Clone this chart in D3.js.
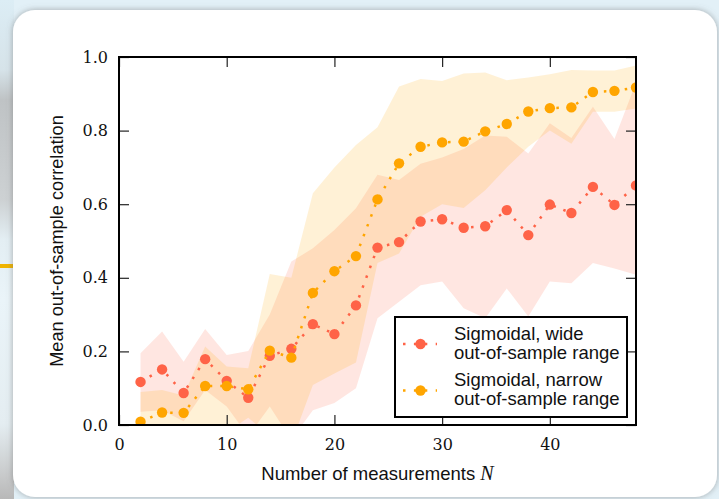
<!DOCTYPE html>
<html>
<head>
<meta charset="utf-8">
<script src="https://cdn.jsdelivr.net/npm/d3@7"></script>
<style>
  html, body { margin: 0; padding: 0; background: #e3f0f7; }
  svg { display: block; }
</style>
</head>
<body>
<div id="chart"></div>
<script>
// number of measurements N
var nValues = [2, 4, 6, 8, 10, 12, 14, 16, 18, 20, 22, 24, 26, 28, 30, 32, 34, 36, 38, 40, 42, 44, 46, 48];

// sigmoidal, wide out-of-sample range
var wideMean  = [0.117, 0.151, 0.087, 0.179, 0.120, 0.074, 0.188, 0.207, 0.274, 0.247, 0.325, 0.482,
                 0.497, 0.553, 0.559, 0.536, 0.540, 0.584, 0.516, 0.599, 0.576, 0.647, 0.598, 0.651];
var wideUpper = [0.195, 0.254, 0.172, 0.261, 0.190, 0.201, 0.300, 0.444, 0.480, 0.530, 0.589, 0.680,
                 0.666, 0.710, 0.727, 0.750, 0.787, 0.783, 0.738, 0.820, 0.780, 0.865, 0.777, 0.930];
var wideLower = [0.036, 0.040, 0.010, 0.095, 0.050, -0.030, 0.050, -0.040, 0.040, 0.060, 0.100, 0.290,
                 0.335, 0.380, 0.390, 0.317, 0.290, 0.371, 0.295, 0.390, 0.385, 0.440, 0.425, 0.408];

// sigmoidal, narrow out-of-sample range
var narrowMean  = [0.009, 0.034, 0.033, 0.106, 0.106, 0.097, 0.202, 0.183, 0.359, 0.418, 0.459, 0.613,
                   0.711, 0.756, 0.768, 0.770, 0.798, 0.818, 0.852, 0.861, 0.863, 0.905, 0.908, 0.917];
var narrowUpper = [0.090, 0.095, 0.080, 0.213, 0.159, 0.154, 0.410, 0.400, 0.630, 0.700, 0.761, 0.809,
                   0.920, 0.940, 0.935, 0.955, 0.958, 0.937, 0.944, 0.953, 0.965, 0.963, 0.963, 0.977];
var narrowLower = [-0.050, -0.040, -0.020, -0.030, -0.020, 0.020, -0.030, -0.050, 0.109, 0.140, 0.170, 0.440,
                   0.466, 0.566, 0.600, 0.590, 0.638, 0.700, 0.756, 0.800, 0.764, 0.851, 0.851, 0.860];

var xTicks = [0, 10, 20, 30, 40];
var yTicks = [0.0, 0.2, 0.4, 0.6, 0.8, 1.0];
var legendLabels = [["Sigmoidal, wide", "out-of-sample range"],
                    ["Sigmoidal, narrow", "out-of-sample range"]];

var series = [
  {mean: wideMean, lo: wideLower, hi: wideUpper, color: "#ff6347"},
  {mean: narrowMean, lo: narrowLower, hi: narrowUpper, color: "#ffa500"}
];

var W = 719, H = 499;
var svg = d3.select("#chart").append("svg")
            .attr("width", W)
            .attr("height", H);

var defs = svg.append("defs");

// blurred backdrop strip on the left of the card
var edge = defs.append("linearGradient").attr("id", "edge")
               .attr("x1", 0).attr("y1", 0).attr("x2", 0).attr("y2", 1);
[[0, "#dcedf5"], [0.14, "#d6e3e9"], [0.20, "#bfc3c5"], [0.40, "#cdd1d3"], [0.48, "#e3eef3"],
 [0.60, "#eaf4f9"], [0.85, "#e4edf1"], [0.95, "#c9cbcc"], [1, "#b8b8b8"]].forEach(function (s) {
  edge.append("stop").attr("offset", s[0]).attr("stop-color", s[1]);
});

var shadow = defs.append("filter").attr("id", "shadow")
                 .attr("x", "-5%").attr("y", "-5%").attr("width", "110%").attr("height", "110%");
shadow.append("feDropShadow").attr("dx", 0).attr("dy", 0).attr("stdDeviation", 3)
      .attr("flood-color", "#6a6a6a").attr("flood-opacity", 0.55);

svg.append("rect").attr("width", W).attr("height", H).attr("fill", "#e2f0f7");
svg.append("rect").attr("width", 14).attr("height", H).attr("fill", "url(#edge)");
svg.append("rect").attr("x", 0).attr("y", 264).attr("width", 14).attr("height", 4).attr("fill", "#f0b400");

svg.append("rect")
   .attr("x", 13).attr("y", 10)
   .attr("width", 704).attr("height", 487)
   .attr("rx", 22)
   .attr("fill", "#ffffff")
   .attr("filter", "url(#shadow)");

// scales
var x = d3.scaleLinear().domain([0, 48]).range([119, 636]);
var y = d3.scaleLinear().domain([0, 1]).range([425, 57]);

defs.append("clipPath").attr("id", "plotclip")
    .append("rect")
    .attr("x", x(0)).attr("y", y(1))
    .attr("width", x(48) - x(0)).attr("height", y(0) - y(1));

var plot = svg.append("g").attr("clip-path", "url(#plotclip)");

var rows = function (s) {
  return nValues.map(function (n, i) {
    return {n: n, m: s.mean[i], lo: s.lo[i], hi: s.hi[i]};
  });
};

var band = d3.area()
             .x(function (d) { return x(d.n); })
             .y0(function (d) { return y(d.lo); })
             .y1(function (d) { return y(d.hi); });

var line = d3.line()
             .x(function (d) { return x(d.n); })
             .y(function (d) { return y(d.m); });

series.forEach(function (s) {
  plot.append("path")
      .datum(rows(s))
      .attr("d", band)
      .attr("fill", s.color)
      .attr("fill-opacity", 0.16)
      .attr("stroke", "none");
});

series.forEach(function (s) {
  var g = plot.append("g");
  g.append("path")
   .datum(rows(s))
   .attr("d", line)
   .attr("fill", "none")
   .attr("stroke", s.color)
   .attr("stroke-width", 2.5)
   .attr("stroke-dasharray", "2.5,8");
  g.selectAll("circle")
   .data(rows(s))
   .enter()
   .append("circle")
   .attr("cx", function (d) { return x(d.n); })
   .attr("cy", function (d) { return y(d.m); })
   .attr("r", 5.2)
   .attr("fill", s.color);
});

// axes, ticks pointing inwards on all four sides
var tickFont = "'DejaVu Serif', serif";

var styleAxis = function (g) {
  g.select(".domain").remove();
  g.selectAll(".tick line").attr("stroke", "#222").attr("stroke-width", 1.2);
  g.selectAll(".tick text").attr("fill", "#111").style("font-family", tickFont).style("font-size", "16px");
};

svg.append("g")
   .attr("transform", "translate(0," + y(0) + ")")
   .call(d3.axisBottom(x).tickValues(xTicks).tickFormat(d3.format("d")).tickSize(-10).tickPadding(14))
   .call(styleAxis);

svg.append("g")
   .attr("transform", "translate(0," + y(1) + ")")
   .call(d3.axisTop(x).tickValues(xTicks).tickFormat("").tickSize(-10))
   .call(styleAxis);

svg.append("g")
   .attr("transform", "translate(" + x(0) + ",0)")
   .call(d3.axisLeft(y).tickValues(yTicks).tickFormat(d3.format(".1f")).tickSize(-10).tickPadding(11))
   .call(styleAxis);

svg.append("g")
   .attr("transform", "translate(" + x(48) + ",0)")
   .call(d3.axisRight(y).tickValues(yTicks).tickFormat("").tickSize(-10))
   .call(styleAxis);

// frame
svg.append("rect")
   .attr("x", x(0)).attr("y", y(1))
   .attr("width", x(48) - x(0)).attr("height", y(0) - y(1))
   .attr("fill", "none")
   .attr("stroke", "#000")
   .attr("stroke-width", 2);

// axis titles
var sans = "'Liberation Sans', Arial, sans-serif";

var xl = svg.append("text")
            .attr("x", (x(0) + x(48)) / 2)
            .attr("y", 480)
            .attr("text-anchor", "middle")
            .style("font-family", sans)
            .style("font-size", "18.5px")
            .attr("fill", "#111");
xl.append("tspan").text("Number of measurements ");
xl.append("tspan")
  .style("font-family", "'Liberation Serif', serif")
  .style("font-style", "italic")
  .style("font-size", "20px")
  .text("N");

svg.append("text")
   .attr("transform", "translate(63," + (y(0) + y(1)) / 2 + ") rotate(-90)")
   .attr("text-anchor", "middle")
   .style("font-family", sans)
   .style("font-size", "18.2px")
   .attr("fill", "#111")
   .text("Mean out-of-sample correlation");

// legend
var legend = svg.append("g");
legend.append("rect")
      .attr("x", 395).attr("y", 317)
      .attr("width", 232).attr("height", 100)
      .attr("fill", "#fff")
      .attr("stroke", "#000")
      .attr("stroke-width", 2);

series.forEach(function (s, i) {
  var cy = 344 + i * 46.5;
  legend.append("line")
        .attr("x1", 403).attr("x2", 437)
        .attr("y1", cy).attr("y2", cy)
        .attr("stroke", s.color)
        .attr("stroke-width", 2.5)
        .attr("stroke-dasharray", "2.5,8.4");
  legend.append("circle")
        .attr("cx", 420.5).attr("cy", cy)
        .attr("r", 5.2)
        .attr("fill", s.color);
  legendLabels[i].forEach(function (t, j) {
    legend.append("text")
          .attr("x", 454)
          .attr("y", cy - 4.5 + j * 19.3)
          .style("font-family", sans)
          .style("font-size", "18.5px")
          .attr("fill", "#111")
          .text(t);
  });
});
</script>
</body>
</html>
